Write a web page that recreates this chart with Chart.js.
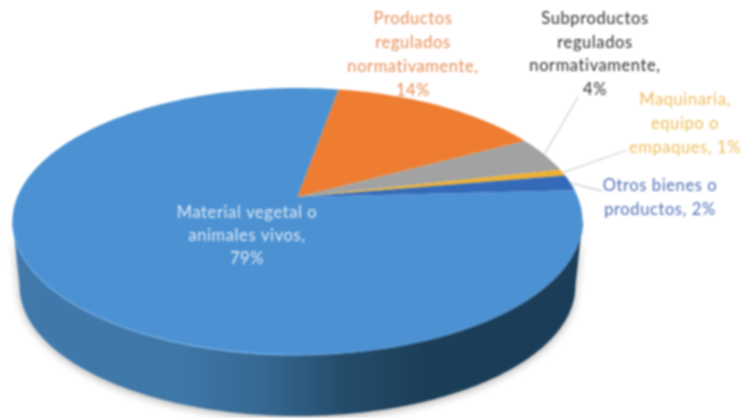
<!DOCTYPE html>
<html><head><meta charset="utf-8">
<style>html,body{margin:0;padding:0;background:#fff;overflow:hidden}
#wrap{width:746px;height:418px;position:relative}
canvas{filter:blur(0.8px)}</style>
<script src="https://cdn.jsdelivr.net/npm/chart.js@4"></script>
</head><body><div id="wrap"><canvas id="c" width="746" height="418"></canvas></div>
<script>
const categories = ["Material vegetal o animales vivos","Productos regulados normativamente","Subproductos regulados normativamente","Maquinaria, equipo o empaques","Otros bienes o productos"];
const values = [78.6, 14.4, 4.3, 0.8, 1.9];
const percentLabels = ["79%","14%","4%","1%","2%"];
const labelLines = [
  ["Material vegetal o","animales vivos,","79%"],
  ["Productos","regulados","normativamente,","14%"],
  ["Subproductos","regulados","normativamente,","4%"],
  ["Maquinaria,","equipo o","empaques, 1%"],
  ["Otros bienes o","productos, 2%"]
];
const sliceColors = ["#4c92d3","#ee7d31","#a2a2a2","#f0b02e","#356ab9"];
const labelColors = ["#dfe9f4","#e88d55","#2e2e2e","#f0bd5c","#4f6fb6"];

// projection of the flat pie onto the tilted top face
const X0=297.5, Y0=197, A=280.2, B=129, P=0.1834, DROP=65, SHRINK=0.975;
function topPt(t){const u=Math.cos(t),v=Math.sin(t),w=1-P*v;return [X0+A*u/w,Y0+B*v/w];}
function botPt(t){const u=Math.cos(t),v=Math.sin(t),w=1-P*v;return [X0+SHRINK*A*u/w,Y0+DROP+SHRINK*B*v/w];}

// label anchor layout: centre x, first line middle y, line pitch
const labelBoxes=[[247,213,23],[413,19,24],[595,19,23.5],[685,100,24],[660,186,24]];
const leaders={1:null,2:[[578,97]],3:[[627,150]],4:[[590,188],[602,191]],0:null};

const pie3d={id:'pie3d',
  beforeDatasetDraw(chart){
    const ctx=chart.ctx, arcs=chart.getDatasetMeta(0).data;
    const t0=Math.asin(P), t1=Math.PI-t0, N=240;
    // side wall
    ctx.save();
    const g=ctx.createLinearGradient(X0-285,0,X0+285,0);
    g.addColorStop(0,'#4279ac');g.addColorStop(.3,'#3f77a8');g.addColorStop(.45,'#35668f');
    g.addColorStop(.58,'#244c6b');g.addColorStop(.72,'#1c3f59');g.addColorStop(1,'#1b3d57');
    ctx.beginPath();
    for(let i=0;i<=N;i++){const p=topPt(t0+(t1-t0)*i/N);i?ctx.lineTo(p[0],p[1]):ctx.moveTo(p[0],p[1]);}
    for(let i=N;i>=0;i--){const p=botPt(t0+(t1-t0)*i/N);ctx.lineTo(p[0],p[1]);}
    ctx.closePath();
    ctx.shadowColor='rgba(0,0,0,.32)';ctx.shadowBlur=9;ctx.shadowOffsetY=2;
    ctx.fillStyle=g;ctx.fill();
    ctx.restore();
    // top face slices, from the arcs the library computed
    arcs.forEach((arc,i)=>{
      const s=arc.startAngle,e=arc.endAngle;
      ctx.beginPath();ctx.moveTo(X0,Y0);
      const n=Math.max(4,Math.ceil((e-s)*60));
      for(let k=0;k<=n;k++){const p=topPt(s+(e-s)*k/n);ctx.lineTo(p[0],p[1]);}
      ctx.closePath();
      ctx.fillStyle=arc.options.backgroundColor;ctx.fill();
    });
    // rim highlight along the front edge
    const r=ctx.createLinearGradient(X0-285,0,X0+285,0);
    r.addColorStop(0,'rgba(120,180,235,.5)');r.addColorStop(.45,'rgba(125,185,240,.85)');
    r.addColorStop(.62,'rgba(90,150,210,.3)');r.addColorStop(1,'rgba(40,80,120,.4)');
    ctx.beginPath();
    for(let i=0;i<=N;i++){const p=topPt(t0+(t1-t0)*i/N);i?ctx.lineTo(p[0],p[1]):ctx.moveTo(p[0],p[1]);}
    ctx.strokeStyle=r;ctx.lineWidth=1.4;ctx.stroke();
    return false;
  },
  afterDatasetsDraw(chart){
    const ctx=chart.ctx, arcs=chart.getDatasetMeta(0).data;
    ctx.save();
    // leader lines
    ctx.strokeStyle='#d2d0ce';ctx.lineWidth=1.3;
    arcs.forEach((arc,i)=>{
      const path=leaders[i]; if(!path) return;
      const m=(arc.startAngle+arc.endAngle)/2, p=topPt(m);
      ctx.beginPath();ctx.moveTo(p[0],p[1]);path.forEach(q=>ctx.lineTo(q[0],q[1]));ctx.stroke();
    });
    // data labels
    ctx.font='16.5px Lato, "Open Sans", sans-serif';ctx.letterSpacing='0.6px';ctx.textAlign='center';ctx.textBaseline='middle';
    labelLines.forEach((lines,i)=>{
      const [x,y,h]=labelBoxes[i];
      ctx.fillStyle=labelColors[i];
      lines.forEach((t,k)=>ctx.fillText(t,x,y+k*h));
    });
    ctx.restore();
  }
};
new Chart(document.getElementById('c'),{
  type:'pie',
  data:{labels:categories,datasets:[{data:values,backgroundColor:sliceColors,borderWidth:0}]},
  options:{responsive:false,animation:false,rotation:87,
    layout:{padding:{right:152}},
    plugins:{legend:{display:false},tooltip:{enabled:false},title:{display:false}}},
  plugins:[pie3d]
});
</script></body></html>
